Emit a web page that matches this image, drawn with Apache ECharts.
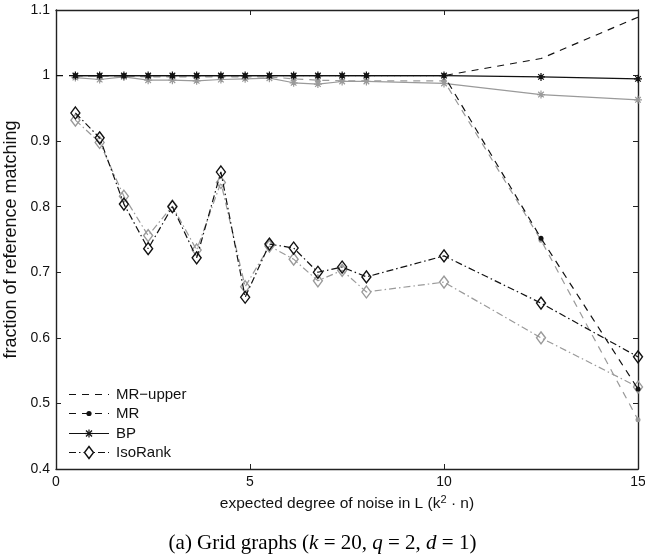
<!DOCTYPE html>
<html><head><meta charset="utf-8">
<script src="https://cdn.jsdelivr.net/npm/echarts@6/dist/echarts.min.js"></script>
<style>html,body{margin:0;padding:0;background:#fff}#c{width:645px;height:554px}</style>
</head><body><div id="c"></div>
<script>
// x positions (expected degree of noise)
const noise = [0.5,1.125,1.75,2.375,3,3.625,4.25,4.875,5.5,6.125,6.75,7.375,8,10,12.5,15];
const mrUpperX = [0,10,12.5,15];
const mrUpper = [1,1,1.026,1.089];
const mrBlack = [1,1,1,1,1,1,1,1,1,1,1,1,1,1,0.752,0.522];
const bpBlack = [1,1,1,1,1,1,1,1,1,1,1,1,1,1,0.998,0.995];
const isoBlack = [0.943,0.905,0.804,0.736,0.800,0.722,0.853,0.662,0.743,0.737,0.700,0.708,0.693,0.725,0.653,0.571];
const mrGray = [0.999,0.999,0.999,0.998,0.998,0.998,0.998,0.998,0.998,0.995,0.993,0.992,0.992,0.992,0.749,0.475];
const bpGray = [0.997,0.994,0.998,0.993,0.993,0.992,0.994,0.995,0.996,0.989,0.987,0.991,0.991,0.988,0.971,0.963];
const isoGray = [0.932,0.898,0.816,0.756,0.801,0.734,0.837,0.678,0.740,0.720,0.687,0.703,0.670,0.685,0.600,0.525];
const legendLabels = ['MR\u2212upper','MR','BP','IsoRank'];
const xTicks = {min:0, max:15, step:5};
const yTicks = {min:0.4, max:1.1, step:0.1};

const pair = (xs, ys) => xs.map((x, i) => [x, ys[i]]);
const asterisk = 'path://M10,0L10,20M0,10L20,10M3,3L17,17M3,17L17,3';
const BLACK = '#111', GRAY = '#9a9a9a';
const FONT = 'Liberation Sans';
const DASH = [7,6], DASHDOT = [7,3,1.5,3];

function mrSeries(name, ys, col, z){
  return {name, type:'line', data:pair(noise, ys), z,
    symbol:'circle', symbolSize:5,
    itemStyle:{color:col},
    lineStyle:{color:col, width:1.2, type:DASH}};
}
function bpSeries(name, ys, col, z){
  return {name, type:'line', data:pair(noise, ys), z,
    symbol:asterisk, symbolSize:8,
    itemStyle:{color:'transparent', borderColor:col, borderWidth:1.2},
    lineStyle:{color:col, width:1.2, type:'solid'}};
}
function isoSeries(name, ys, col, z){
  return {name, type:'line', data:pair(noise, ys), z,
    symbol:'diamond', symbolSize:[9,12],
    itemStyle:{color:'transparent', borderColor:col, borderWidth:1.4},
    lineStyle:{color:col, width:1.2, type:DASHDOT}};
}

// hand-drawn legend (lines + markers + labels)
function legendGraphics(){
  const els = [];
  const x0 = 69, x1 = 109, cx = 89, tx = 116, y0 = 394, dy = 19.3;
  const kinds = ['upper','mr','bp','iso'];
  kinds.forEach((k, i) => {
    const y = Math.round(y0 + i*dy) + 0.5;
    const dash = k === 'bp' ? null : (k === 'iso' ? DASHDOT : DASH);
    els.push({type:'line', shape:{x1:x0, y1:y, x2:x1, y2:y},
      style:{stroke:BLACK, lineWidth:1.2, lineDash:dash}, silent:true});
    if (k === 'mr') {
      els.push({type:'circle', shape:{cx, cy:y, r:2.6}, style:{fill:BLACK}, silent:true});
    } else if (k === 'bp') {
      [[0,-4,0,4],[-4,0,4,0],[-3,-3,3,3],[-3,3,3,-3]].forEach(s =>
        els.push({type:'line', shape:{x1:cx+s[0], y1:y+s[1], x2:cx+s[2], y2:y+s[3]},
          style:{stroke:BLACK, lineWidth:1.2}, silent:true}));
    } else if (k === 'iso') {
      els.push({type:'polygon', shape:{points:[[cx,y-6],[cx+4.5,y],[cx,y+6],[cx-4.5,y]]},
        style:{fill:'#fff', stroke:BLACK, lineWidth:1.4}, silent:true});
    }
    els.push({type:'text', x:tx, y:y, silent:true,
      style:{text:legendLabels[i], fill:'#111', font:'15px "Liberation Sans"',
             verticalAlign:'middle', align:'left'}});
  });
  return els;
}

const axisLine = {show:true, onZero:false, lineStyle:{color:'#222', width:1.4}};
const axisTick = {show:true, inside:true, length:5, lineStyle:{color:'#222', width:1}};

const chart = echarts.init(document.getElementById('c'), null, {renderer:'canvas'});
chart.setOption({
  animation:false,
  backgroundColor:'#fff',
  title:{
    text:'{n|(a) Grid graphs (}{i|k}{n| = 20, }{i|q}{n| = 2, }{i|d}{n| = 1)}',
    left:'center', top:533, padding:0,
    textStyle:{fontWeight:'normal', rich:{
      n:{fontFamily:'Liberation Serif', fontSize:21, fontWeight:'normal', color:'#000'},
      i:{fontFamily:'Liberation Serif', fontStyle:'italic', fontWeight:'normal', fontSize:21, color:'#000'}
    }}
  },
  grid:{left:56, right:7, top:10, bottom:85, containLabel:false, outerBoundsMode:'none'},
  graphic:legendGraphics(),
  xAxis:[
    {type:'value', min:xTicks.min, max:xTicks.max, interval:xTicks.step, position:'bottom',
     axisLine, axisTick, splitLine:{show:false},
     axisLabel:{color:'#111', fontSize:14, fontFamily:FONT, margin:6},
     name:'expected degree of noise in L (k{sup|2} \u00b7 n)', nameLocation:'middle', nameGap:25,
     nameTextStyle:{color:'#111', fontSize:15.5, fontFamily:FONT,
       rich:{sup:{fontSize:11, fontFamily:FONT, color:'#111', padding:[0,0,8,0]}}}},
    {type:'value', min:xTicks.min, max:xTicks.max, interval:xTicks.step, position:'top',
     axisLine, axisTick, splitLine:{show:false}, axisLabel:{show:false}}
  ],
  yAxis:[
    {type:'value', min:yTicks.min, max:yTicks.max, interval:yTicks.step, position:'left',
     axisLine, axisTick, splitLine:{show:false},
     axisLabel:{color:'#111', fontSize:14, fontFamily:FONT, margin:6,
       formatter:v => Math.abs(v-1) < 1e-9 ? '1' : v.toFixed(1)},
     name:'fraction of reference matching', nameLocation:'middle', nameGap:22,
     nameTextStyle:{color:'#111', fontSize:18, fontFamily:FONT}},
    {type:'value', min:yTicks.min, max:yTicks.max, interval:yTicks.step, position:'right',
     axisLine, axisTick, splitLine:{show:false}, axisLabel:{show:false}}
  ],
  series:[
    mrSeries('MR gray', mrGray, GRAY, 2),
    bpSeries('BP gray', bpGray, GRAY, 2),
    isoSeries('IsoRank gray', isoGray, GRAY, 2),
    {name:'MR\u2212upper', type:'line', data:pair(mrUpperX, mrUpper), z:3, symbol:'none',
     itemStyle:{color:BLACK}, lineStyle:{color:BLACK, width:1.2, type:DASH}},
    mrSeries('MR', mrBlack, BLACK, 4),
    bpSeries('BP', bpBlack, BLACK, 4),
    isoSeries('IsoRank', isoBlack, BLACK, 4)
  ]
});
</script></body></html>
